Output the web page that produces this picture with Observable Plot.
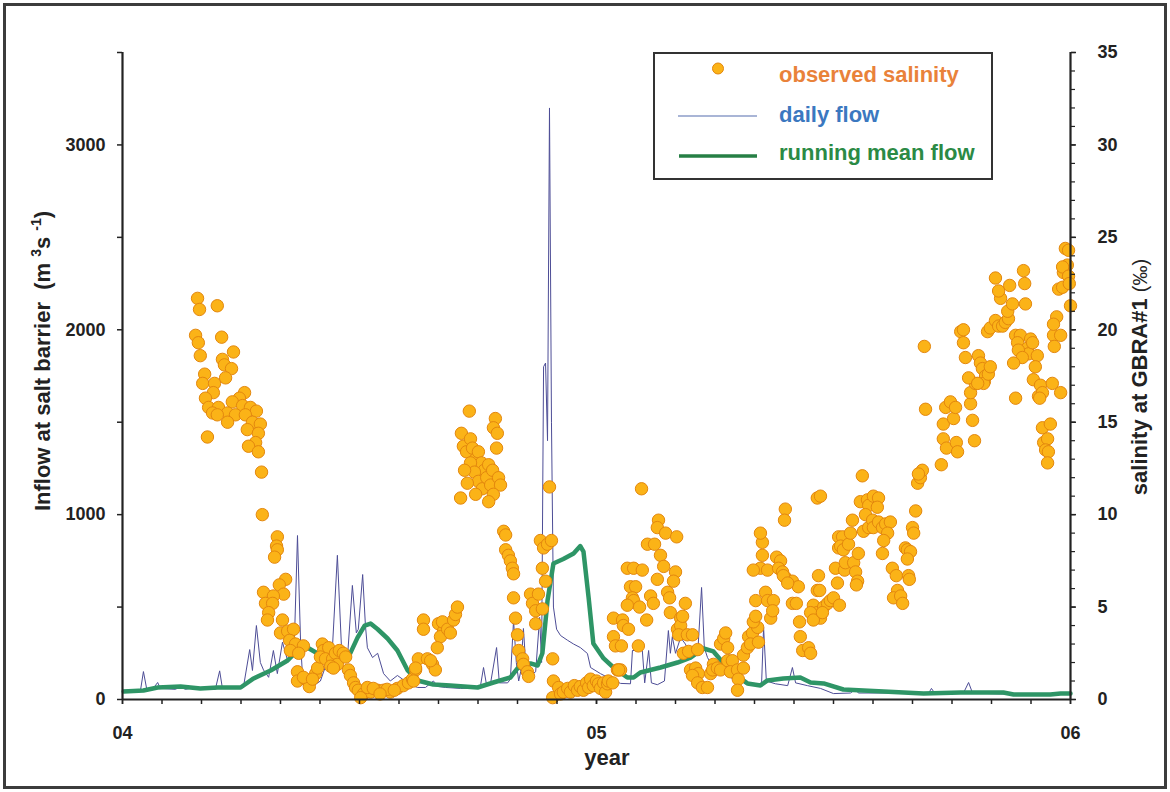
<!DOCTYPE html>
<html><head><meta charset="utf-8">
<script src="https://cdn.jsdelivr.net/npm/d3@7"></script>
<script src="https://cdn.jsdelivr.net/npm/@observablehq/plot@0.6"></script>
<style>
body{margin:0;background:#fff;}
#wrap{position:relative;width:1170px;height:792px;overflow:hidden;font-family:Arial,"Liberation Sans",sans-serif;background:#fff;}
#frame{position:absolute;left:3px;top:3px;width:1164px;height:786px;border:3px solid #3c3c3c;box-sizing:border-box;}
#chart{position:absolute;left:0;top:0;}
#legend{position:absolute;left:653px;top:52px;}
g[aria-label$="tick label"] text{font-weight:bold;font-size:18px;fill:#222;}
</style></head>
<body><div id="wrap"><div id="chart"></div><svg id="legend" width="340" height="129"></svg><div id="frame"></div></div>
<script>
// x values are months since January 2004 (0 = Jan 2004, 24 = Jan 2006)
const yearTicks = [0, 12, 24];
const yearLabels = ["04", "05", "06"];

// daily inflow at salt barrier (m3/s): [month, flow]
const dailyFlow = [
[0,50],[0.33,50],[0.46,55],[0.53,151],[0.61,60],[0.76,55],[0.89,92],[0.96,60],[1.34,55],[1.47,70],[1.59,55],
[1.90,68],[2.10,55],[2.35,55],[2.46,155],[2.53,60],[2.86,60],[3.06,65],[3.22,270],[3.29,157],[3.39,400],
[3.49,200],[3.57,160],[3.70,120],[3.82,265],[3.92,140],[4.05,310],[4.18,210],[4.28,250],[4.35,300],[4.43,887],
[4.51,300],[4.56,120],[4.68,100],[4.84,75],[5.01,100],[5.19,210],[5.32,300],[5.44,780],[5.54,300],[5.62,210],
[5.70,240],[5.82,617],[5.92,360],[5.97,380],[6.08,676],[6.15,400],[6.20,280],[6.33,227],[6.46,250],[6.61,140],
[6.78,100],[6.96,130],[7.09,110],[7.22,87],[7.47,65],[7.67,65],[7.87,100],[8.00,70],[8.18,65],[8.56,60],
[8.94,62],[9.06,70],[9.14,173],[9.22,75],[9.32,90],[9.47,281],[9.54,90],[9.75,90],[9.82,110],[9.90,427],
[9.97,200],[10.03,100],[10.08,150],[10.15,384],[10.23,120],[10.33,130],[10.46,150],[10.56,444],[10.61,200],
[10.66,1800],[10.71,1820],[10.76,1400],[10.81,3200],[10.86,1500],[10.91,500],[10.99,380],[11.09,346],
[11.27,320],[11.42,300],[11.59,281],[11.77,249],[11.85,173],[12.10,140],[12.43,103],[12.61,87],[12.86,85],
[12.91,265],[13.16,265],[13.22,90],[13.32,265],[13.39,90],[13.54,80],[13.72,100],[13.82,373],[13.87,250],
[13.92,340],[14.00,250],[14.13,335],[14.25,300],[14.38,240],[14.56,240],[14.66,606],[14.73,280],[14.81,227],
[14.96,173],[15.22,140],[15.47,110],[15.82,90],[16.08,80],[16.18,90],[16.23,390],[16.30,100],[16.53,85],
[16.84,75],[16.96,173],[17.04,90],[17.34,75],[17.67,60],[18.00,32],[18.43,35],[18.56,55],[18.63,35],
[19.70,35],[20.41,35],[20.48,60],[20.56,35],[21.29,35],[21.42,92],[21.52,35],[22.23,30],[23.24,28],[24,27]
];

// running mean inflow (m3/s): [month, flow]
const meanFlow = [
[0.03,43],[0.53,49],[0.89,65],[1.47,70],[1.97,60],[2.41,65],[2.99,65],[3.32,114],[3.75,157],[4.18,211],
[4.43,265],[4.68,281],[4.94,249],[5.34,227],[5.70,220],[5.95,335],[6.13,400],[6.28,411],[6.46,380],[6.71,330],
[6.96,265],[7.22,157],[7.47,103],[7.87,81],[8.30,76],[8.99,65],[9.39,92],[9.82,119],[10.00,168],[10.33,195],
[10.51,184],[10.63,250],[10.76,535],[10.91,736],[11.16,760],[11.42,790],[11.59,830],[11.67,800],[11.80,552],
[11.92,303],[12.18,222],[12.43,173],[12.78,119],[12.94,119],[13.11,146],[13.62,173],[14.05,200],[14.38,227],
[14.71,276],[14.96,260],[15.22,195],[15.47,141],[15.82,87],[16.15,76],[16.33,103],[16.73,114],[17.16,119],
[17.42,92],[17.75,87],[18.25,54],[19.27,43],[20.28,32],[21.22,38],[22.30,38],[22.56,27],[23.49,27],[23.75,32],[24,32]
];

// observed salinity at GBRA#1 (per mil): [month, salinity]
const salinity = [
[1.90,21.7],[1.95,21.1],[2.40,21.3],[1.85,19.7],[1.92,19.3],[2.51,19.6],[1.97,18.6],[2.81,18.8],[2.53,18.4],
[2.58,18.1],[2.76,17.9],[2.08,17.6],[2.61,17.4],[2.03,17.1],[2.33,17.1],[2.30,16.6],[2.10,16.3],[3.09,16.6],
[2.96,16.3],[2.78,16.1],[2.18,15.8],[2.43,15.8],[3.04,15.9],[3.24,15.8],[2.28,15.5],[2.66,15.5],[2.86,15.4],
[3.39,15.6],[2.40,15.4],[2.66,15.0],[3.11,15.4],[3.29,15.0],[3.49,14.9],[3.16,14.6],[3.44,14.4],[2.15,14.2],
[3.37,13.9],[3.19,13.7],[3.44,13.4],[3.52,12.3],[3.54,10.0],[3.92,8.8],[3.90,8.3],[3.92,8.1],[3.85,7.7],
[4.13,6.5],[3.97,6.2],[4.08,5.7],[3.57,5.8],[3.82,5.6],[3.62,5.2],[3.80,5.2],[3.70,4.7],[3.67,4.3],[4.05,4.3],
[4.00,3.6],[4.18,3.7],[4.33,3.8],[4.23,3.2],[4.38,3.0],[4.58,2.9],[4.25,2.65],[4.46,2.5],[4.43,1.5],[4.43,1.0],
[4.63,1.1],[4.73,0.7],[4.89,1.4],[4.94,1.7],[5.06,3.0],[5.09,2.65],[5.22,2.8],[5.01,2.3],[5.14,2.2],[5.32,2.2],
[5.39,2.5],[5.49,2.65],[5.59,2.5],[5.44,1.9],[5.27,1.8],[5.34,1.7],[5.65,2.3],[5.72,1.6],[5.77,1.3],[5.85,0.9],
[5.90,0.65],[5.97,0.5],[6.10,0.3],[6.28,0.4],[6.46,0.5],[6.61,0.5],[6.78,0.4],[6.96,0.6],[7.11,0.75],[7.24,0.9],
[7.34,1.1],[7.42,1.6],[6.03,0.1],[4.58,1.2],[4.81,1.1],[6.20,0.65],[6.35,0.6],[6.70,0.55],[6.88,0.5],[6.52,0.3],
[7.62,4.3],[7.62,3.8],[8.00,4.1],[8.13,3.7],[8.05,3.4],[7.97,2.8],[7.49,2.2],[7.72,2.2],[7.85,1.9],[7.92,1.6],
[7.42,1.7],[7.37,1.0],[8.10,4.2],[8.23,3.8],[8.30,3.6],[8.38,4.3],[8.43,4.6],[8.48,5.0],[7.80,2.1],
[8.78,15.6],[8.58,14.4],[8.63,13.7],[8.71,13.4],[8.81,14.1],[8.86,13.6],[8.94,13.0],[9.01,13.4],[9.09,12.8],
[9.16,12.4],[9.27,12.7],[8.81,12.8],[8.91,12.3],[9.01,11.8],[9.11,11.4],[9.22,12.0],[9.32,11.6],[8.66,12.4],
[8.73,11.7],[8.56,10.9],[8.94,11.1],[9.37,12.4],[9.44,15.2],[9.39,14.7],[9.49,14.4],[9.47,13.6],[9.52,12.0],
[9.57,11.6],[9.39,11.1],[9.27,10.7],
[9.65,9.1],[9.70,8.9],[9.70,8.1],[9.77,7.8],[9.82,7.5],[9.87,7.1],[9.90,6.8],[9.90,5.5],[9.95,4.4],[10.00,3.5],
[10.03,2.65],[10.13,2.2],[10.15,1.9],[10.25,1.5],[10.28,1.25],[10.33,5.7],[10.38,5.2],[10.46,4.8],[10.53,5.7],
[10.46,4.1],[10.63,4.9],[10.58,8.6],[10.66,8.2],[10.76,8.4],[10.86,8.6],[10.63,7.1],[10.71,6.4],[10.81,11.5],
[10.89,2.2],[10.91,1.0],[10.89,0.1],[11.04,0.65],[11.09,0.3],[11.16,0.4],[11.27,0.6],[11.34,0.4],[11.44,0.75],
[11.52,0.5],[11.59,0.7],[11.67,0.5],[11.75,0.9],[11.80,0.65],[11.85,1.1],[11.92,0.75],[12.00,1.0],[12.05,0.85],
[12.10,0.6],[12.18,0.9],[12.23,0.4],[12.28,0.85],[12.30,1.0],[12.41,0.9],[12.53,1.6],[12.61,1.6],
[13.14,11.4],[13.57,9.7],[13.54,9.3],[13.75,9.0],[14.03,8.8],[13.29,8.4],[13.47,8.4],[13.62,7.8],[13.70,7.2],
[14.00,6.9],[13.95,6.4],[12.78,7.1],[12.94,7.1],[13.16,7.0],[12.86,6.1],[12.99,6.1],[12.91,5.5],[12.94,5.35],
[12.78,5.1],[13.09,5.0],[13.37,5.6],[13.44,5.2],[13.54,6.5],[13.80,5.8],[13.85,5.5],[13.87,4.7],[14.13,4.4],
[14.25,5.2],[13.27,4.3],[12.43,4.4],[12.66,4.3],[12.68,4.0],[12.81,3.8],[12.43,3.4],[12.48,2.9],[12.63,2.9],
[13.06,2.9],[12.56,1.6],[14.05,3.8],[14.13,4.0],[14.18,4.5],[14.08,3.5],[14.30,3.5],[14.43,3.5],[14.20,2.5],
[14.33,2.6],[14.56,2.7],[14.38,1.6],[14.51,1.7],[14.58,1.4],[14.43,1.3],[14.56,0.9],[14.68,0.65],[14.81,0.65],
[14.89,1.4],[14.96,1.9],[14.94,1.6],[15.06,1.7],[15.14,1.6],[15.32,2.1],[15.44,2.1],[15.39,1.5],[15.57,1.6],
[15.59,1.1],[15.57,0.5],[15.72,1.7],[15.72,2.4],[15.82,2.8],[15.85,3.4],[15.95,3.6],[15.90,3.0],[16.08,3.9],
[15.97,4.2],[16.03,4.5],[16.10,3.1],[15.14,3.0],[15.22,3.3],[15.27,3.6],[15.32,2.8],[16.03,5.35],[16.28,5.8],
[16.33,5.35],[16.48,5.35],[16.41,4.4],[16.46,4.8],[16.15,7.1],[16.20,7.8],[15.97,7.0],[16.20,8.5],[16.15,9.0],
[16.33,7.0],[16.56,7.7],[16.66,7.5],[16.61,7.1],[16.71,6.9],[16.78,6.6],[16.96,6.4],[17.11,6.1],[16.73,6.7],
[16.84,6.3],[16.96,5.2],[17.06,5.2],[17.14,4.2],[17.16,3.4],[17.22,2.65],[17.37,2.8],[17.42,2.5],[16.78,10.3],
[16.76,9.7],[17.59,10.9],[17.62,6.7],[17.59,5.9],[17.65,5.9],[17.49,5.1],[17.59,4.7],[17.75,5.0],[17.85,5.2],
[17.92,5.35],[18.00,5.5],[18.10,6.3],[18.05,7.1],[18.13,8.2],[18.13,8.8],[17.42,4.7],[17.67,4.4],[17.49,4.3],
[17.72,4.7],
[17.67,11.0],[18.15,5.1],[18.28,7.0],[18.30,7.4],[18.51,7.4],[18.56,6.9],[18.61,6.4],[18.58,6.2],[18.63,7.9],
[18.23,8.8],[18.18,8.3],[18.25,8.1],[18.38,8.4],[18.43,9.0],[18.48,9.7],[18.73,12.1],[18.68,10.7],[18.86,10.8],
[18.89,10.5],[19.01,11.0],[19.14,10.9],[19.11,10.4],[18.81,10.0],[18.76,9.1],[18.89,9.3],[18.99,9.7],[19.01,9.3],
[19.14,9.6],[19.24,9.3],[19.32,9.5],[19.44,9.6],[19.37,9.0],[19.27,8.6],[19.24,7.9],[19.49,7.1],[19.59,6.7],
[19.62,5.9],[19.52,5.5],[19.70,5.6],[19.75,5.2],[19.82,8.2],[19.87,8.1],[19.95,8.0],[19.87,7.6],[19.90,6.7],
[19.92,6.5],[20.00,9.3],[20.03,9.0],[20.08,10.2],[20.13,11.7],[20.20,12.0],[20.25,12.4],[20.15,12.2],[20.33,15.7],
[20.30,19.1],[20.73,12.7],[20.78,14.1],[20.86,13.6],[21.11,13.9],[21.14,13.4],[20.78,14.9],[21.04,15.2],
[20.84,15.8],[20.96,16.1],[21.09,15.8],[21.52,15.1],[21.47,16.0],[21.57,14.0],[21.47,16.6],[21.59,17.1],
[21.82,17.2],[22.61,16.3],[23.06,17.3],[23.24,17.0],[23.19,16.4],[23.54,17.1],[23.75,16.6],[23.29,14.7],
[23.49,14.9],[23.32,13.9],[23.42,14.1],[23.37,13.5],[23.44,13.4],[23.42,12.8],
[21.22,19.9],[21.29,20.0],[21.29,19.3],[21.34,18.5],[21.42,17.4],[21.67,18.6],[21.72,18.2],[21.77,17.9],
[21.85,17.5],[21.80,17.1],[21.65,17.1],[21.92,17.6],[21.97,18.0],[21.90,19.9],[21.97,20.1],[22.10,20.5],
[22.18,20.2],[22.28,20.2],[22.35,20.4],[22.43,20.6],[22.41,21.0],[22.53,21.4],[22.23,21.7],[22.18,22.1],
[22.10,22.8],[22.46,22.4],[22.81,23.2],[22.84,22.5],[22.86,21.4],[22.61,19.7],[22.73,19.7],[22.66,19.3],
[22.99,19.5],[22.91,19.0],[22.94,18.7],[23.04,19.3],[22.68,18.9],[22.78,18.5],[22.56,18.2],[23.16,18.6],
[23.11,18.0],[23.29,16.6],[23.22,16.3],[23.57,19.7],[23.75,19.7],[23.59,19.1],[23.65,20.7],[23.57,20.3],
[23.70,22.2],[23.80,22.3],[23.82,23.1],[23.92,23.5],[23.87,24.4],[23.95,24.3],[23.80,23.4],[23.95,22.9],
[23.97,22.5],[24.00,21.3]
];

const flowTicks = [0, 1000, 2000, 3000];
const flowMinorTicks = [500, 1500, 2500, 3500];
const salinityTicks = [0, 5, 10, 15, 20, 25, 30, 35];
const salinityMinorTicks = d3.range(0, 36, 1);
const monthTicks = d3.range(0, 25, 1);

const FLOW_PER_SAL = 100; // 35 per mil on the right axis aligns with 3500 m3/s on the left

const flowRows = dailyFlow.map(([m, v]) => ({m, v}));
const meanRows = meanFlow.map(([m, v]) => ({m, v}));
const salRows = salinity.map(([m, s]) => ({m, s}));

const axisColor = "#222";
const chart = Plot.plot({
  width: 1170, height: 792,
  marginLeft: 122, marginRight: 100, marginTop: 52, marginBottom: 93,
  style: {fontFamily: "Arial, 'Liberation Sans', sans-serif", background: "transparent", color: axisColor, overflow: "visible"},
  x: {domain: [0, 24], label: null},
  y: {domain: [0, 3500], label: null},
  marks: [
    Plot.line(flowRows, {x: "m", y: "v", stroke: "#4d4d96", strokeWidth: 1}),
    Plot.line(meanRows, {x: "m", y: "v", stroke: "#2e9566", strokeWidth: 4.5, strokeLinejoin: "round"}),
    Plot.dot(salRows, {x: "m", y: d => d.s * FLOW_PER_SAL, r: 6.2, fill: "#fbb317", stroke: "#e3870e", strokeWidth: 1}),
    Plot.axisY({anchor: "left", ticks: flowTicks, tickSize: 5, tickPadding: 12, tickFormat: d => String(d),
      fontSize: 18, fontWeight: "bold", label: null, strokeWidth: 1.5}),
    Plot.axisY({anchor: "left", ticks: flowMinorTicks, tickSize: 5, tickFormat: () => "", label: null, strokeWidth: 1.5}),
    Plot.axisY({anchor: "right", ticks: salinityTicks.map(s => s * FLOW_PER_SAL), tickSize: 5, tickPadding: 22,
      tickFormat: d => String(d / FLOW_PER_SAL), fontSize: 18, fontWeight: "bold", label: null, strokeWidth: 1.5}),
    Plot.axisY({anchor: "right", ticks: salinityMinorTicks.map(s => s * FLOW_PER_SAL), tickSize: 4, tickFormat: () => "", label: null, strokeWidth: 1.2}),
    Plot.axisX({ticks: yearTicks, tickSize: 5, tickPadding: 22, tickFormat: d => yearLabels[yearTicks.indexOf(d)],
      fontSize: 18, fontWeight: "bold", label: null, strokeWidth: 1.5}),
    Plot.axisX({ticks: monthTicks, tickSize: 5, tickFormat: () => "", label: null, strokeWidth: 1.5}),
    Plot.ruleX([0, 24], {stroke: axisColor, strokeWidth: 2.2}),
    Plot.ruleY([0], {stroke: axisColor, strokeWidth: 2.2})
  ]
});
document.getElementById("chart").appendChild(chart);

const svg = d3.select(chart);
// x-axis title
svg.append("text").attr("x", 607).attr("y", 765).attr("text-anchor", "middle")
  .attr("font-size", 22).attr("font-weight", "bold").attr("fill", "#222").text("year");
// left title
const lt = svg.append("text").attr("transform", "translate(50,361) rotate(-90)").attr("text-anchor", "middle")
  .attr("font-size", 22).attr("font-weight", "bold").attr("fill", "#222");
lt.append("tspan").text("Inflow at salt barrier  (m ");
lt.append("tspan").attr("font-size", 14).attr("dy", -9).text("3");
lt.append("tspan").attr("dy", 9).text("s ");
lt.append("tspan").attr("font-size", 14).attr("dy", -9).text("-1");
lt.append("tspan").attr("dy", 9).text(")");
// right title
const rt = svg.append("text").attr("transform", "translate(1147,377) rotate(-90)").attr("text-anchor", "middle")
  .attr("font-size", 22).attr("font-weight", "bold").attr("fill", "#222");
rt.append("tspan").text("salinity at GBRA#1 ");
rt.append("tspan").attr("font-size", 20).attr("font-weight", "normal").text("(‰)");

// legend
const legendItems = [
  {label: "observed salinity", color: "#e9823a", kind: "dot", y: 30},
  {label: "daily flow", color: "#3b78c0", kind: "thin", y: 70},
  {label: "running mean flow", color: "#2b8a45", kind: "thick", y: 108}
];
const lg = d3.select("#legend");
lg.append("rect").attr("x", 1).attr("y", 1).attr("width", 338).attr("height", 126)
  .attr("fill", "#fff").attr("stroke", "#333").attr("stroke-width", 2);
for (const it of legendItems) {
  if (it.kind === "dot") {
    lg.append("circle").attr("cx", 65).attr("cy", 16.5).attr("r", 5.5).attr("fill", "#fbb317").attr("stroke", "#e3870e");
  } else if (it.kind === "thin") {
    lg.append("line").attr("x1", 25).attr("x2", 104).attr("y1", 64).attr("y2", 64).attr("stroke", "#a9b5d6").attr("stroke-width", 2);
  } else {
    lg.append("line").attr("x1", 26).attr("x2", 104).attr("y1", 104).attr("y2", 104).attr("stroke", "#267f45").attr("stroke-width", 3.5);
  }
  lg.append("text").attr("x", 126).attr("y", it.y).attr("font-family", "Arial, 'Liberation Sans', sans-serif")
    .attr("font-size", 22).attr("font-weight", "bold").attr("fill", it.color).text(it.label);
}
</script>
</body></html>
